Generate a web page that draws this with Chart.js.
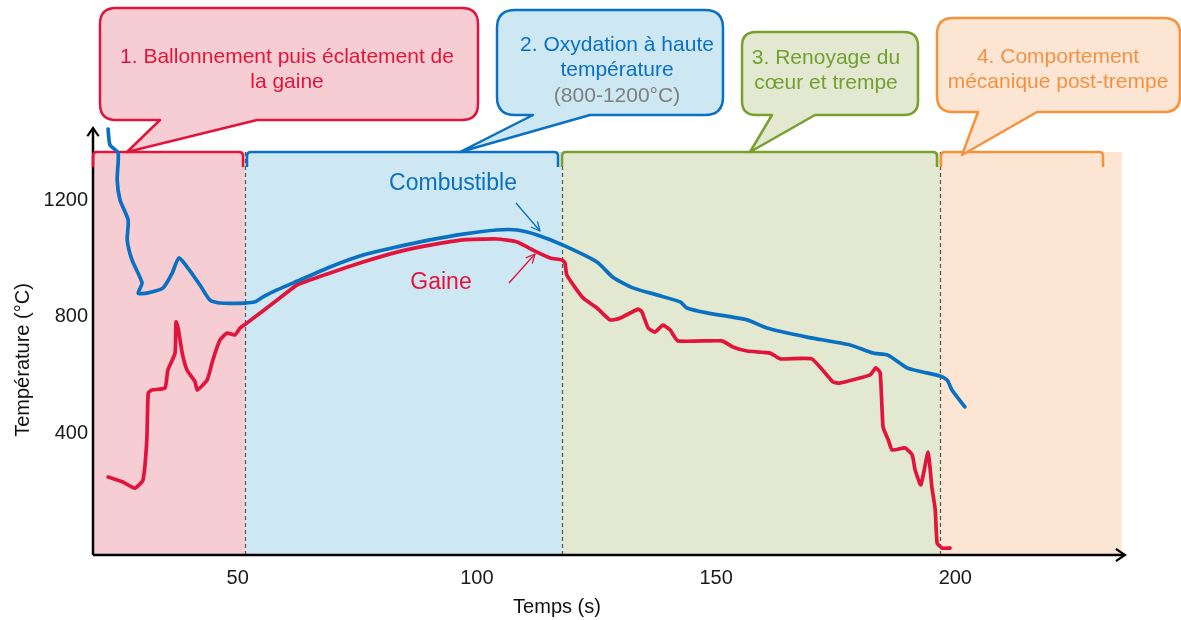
<!DOCTYPE html>
<html><head><meta charset="utf-8">
<script src="https://cdn.jsdelivr.net/npm/chart.js@4/dist/chart.umd.min.js"></script>
<style>html,body{margin:0;padding:0;background:#fff;}canvas{display:block}</style>
</head><body>
<canvas id="c" width="1181" height="620"></canvas>
<script>
// ---- data ----
const xTicks = [50, 100, 150, 200];
const yTicks = [400, 800, 1200];

const combustibleX = [22.9,23.3,25.0,24.8,25.4,27.1,26.9,27.9,30.0,29.2,31.0,34.4,36.3,37.7,39.6,42.1,44.2,46.3,51.5,53.6,55.3,58.2,63.0,69.3,76.2,83.3,90.2,97.1,104.2,108.4,112.6,118.0,125.1,128.4,132.6,137.6,142.5,143.9,148.1,156.5,160.6,169.0,178.0,182.8,185.9,189.9,193.2,196.8,198.3,199.3,202.0];
const combustibleY = [1445,1390,1363,1270,1201,1132,1064,995,916,881,881,899,950,1002,967,909,857,847,847,851,868,892,926,971,1012,1040,1064,1084,1098,1098,1081,1046,988,936,899,875,851,830,813,789,761,730,703,675,668,624,610,596,582,548,490];

const gaineX = [22.9,26.0,28.5,30.2,31.0,31.3,32.1,34.8,35.4,36.9,37.1,37.5,38.4,39.4,41.1,41.5,43.6,44.8,46.3,47.8,49.4,50.5,51.9,54.7,58.8,62.4,69.3,76.2,83.3,90.2,97.1,104.2,108.4,111.7,115.3,117.8,118.4,118.8,122.2,125.1,127.8,129.9,133.7,134.5,135.8,137.2,138.9,140.4,142.0,151.2,153.5,156.5,161.3,163.4,170.0,174.4,175.9,182.2,183.4,184.3,184.9,186.0,186.8,189.5,191.0,191.6,192.8,194.3,195.1,195.8,196.2,197.2,198.9];
const gaineY = [249,232,211,239,376,538,548,555,617,675,782,765,675,617,576,548,582,651,720,744,737,761,778,813,864,909,950,988,1022,1046,1064,1067,1057,1029,1002,995,985,943,864,830,789,795,826,816,761,747,771,754,717,717,696,682,675,655,655,576,572,600,624,607,421,376,342,349,325,273,222,335,215,136,22,5,5];

const phaseBounds = [19.75, 51.5, 117.8, 196.8, 234.8];
const phaseLabels = [
  ["1. Ballonnement puis éclatement de", "la gaine"],
  ["2. Oxydation à haute", "température", "(800-1200°C)"],
  ["3. Renoyage du", "cœur et trempe"],
  ["4. Comportement", "mécanique post-trempe"]
];
const seriesNames = ["Combustible", "Gaine"];
const xTitle = "Temps (s)";
const yTitle = "Température (°C)";

// ---- styles ----
const FONT = "'Liberation Sans', Arial, sans-serif";
const RED = '#e3143c', BLUE = '#0a70c2';
const phaseFill = ['#f7cdd4', '#cde7f3', '#e2e9d0', '#fde5d3'];
const phaseStroke = ['#e3143c', '#0a70c2', '#78a02f', '#f7923c'];
const phaseText = ['#e3143c', '#0a70c2', '#72a030', '#f39244'];
const phaseTopValue = 1366;
const callouts = [
  {x:100,y:8,w:378,h:112,r:16,tail:[160,257],tip:[127,152],cx:287,ys:[57,82]},
  {x:497,y:10,w:226,h:105,r:18,tail:[533,590],tip:[460,152],cx:617,ys:[45,70,96],colors:[null,null,'#7f7f7f']},
  {x:742,y:32,w:176,h:83,r:14,tail:[772,815],tip:[750,152],cx:826,ys:[58,83]},
  {x:937,y:18,w:243,h:94,r:16,tail:[978,1037],tip:[962,155],cx:1058,ys:[57,82]}
];
const bracketEnds = [[93,243],[247,558],[562,937],[941,1103]];

function pts(xs, ys){ return xs.map((x,i)=>({x:x, y:ys[i]})); }

function arrowHead(ctx, x1,y1,x2,y2,len,ang){
  const a=Math.atan2(y2-y1,x2-x1);
  ctx.beginPath();
  ctx.moveTo(x2-len*Math.cos(a-ang), y2-len*Math.sin(a-ang));
  ctx.lineTo(x2,y2);
  ctx.lineTo(x2-len*Math.cos(a+ang), y2-len*Math.sin(a+ang));
  ctx.stroke();
}

const decor = {
  id:'decor',
  beforeDatasetsDraw(chart){
    const ctx=chart.ctx, xs=chart.scales.x, ys=chart.scales.y;
    const top=ys.getPixelForValue(phaseTopValue), bottom=chart.chartArea.bottom;
    ctx.save();
    for(let i=0;i<4;i++){
      const a=xs.getPixelForValue(phaseBounds[i]), b=xs.getPixelForValue(phaseBounds[i+1]);
      ctx.fillStyle=phaseFill[i];
      ctx.fillRect(a, top, b-a, bottom-top);
    }
    ctx.strokeStyle='#555'; ctx.lineWidth=1.2; ctx.setLineDash([4,3]);
    for(let i=1;i<4;i++){
      const p=Math.round(xs.getPixelForValue(phaseBounds[i]))+0.5;
      ctx.beginPath(); ctx.moveTo(p, top); ctx.lineTo(p, bottom); ctx.stroke();
    }
    ctx.setLineDash([]);
    const L=chart.chartArea.left, R=chart.chartArea.right, T=chart.chartArea.top;
    ctx.strokeStyle='#000'; ctx.lineWidth=2.5; ctx.lineCap='butt';
    ctx.beginPath(); ctx.moveTo(L, bottom); ctx.lineTo(L, T+1); ctx.stroke();
    ctx.beginPath(); ctx.moveTo(L, bottom); ctx.lineTo(R-1, bottom); ctx.stroke();
    ctx.lineWidth=2.2;
    arrowHead(ctx, L, bottom, L, T, 10, 0.6);
    arrowHead(ctx, L, bottom, R, bottom, 11, 0.6);
    ctx.lineWidth=2.5;
    for(let i=0;i<4;i++){
      const [a,b]=bracketEnds[i];
      ctx.strokeStyle=phaseStroke[i];
      ctx.beginPath();
      ctx.moveTo(a, top+15); ctx.lineTo(a, top+4);
      ctx.quadraticCurveTo(a, top, a+4, top);
      ctx.lineTo(b-4, top);
      ctx.quadraticCurveTo(b, top, b, top+4);
      ctx.lineTo(b, top+15);
      ctx.stroke();
    }
    ctx.restore();
  },
  afterDatasetsDraw(chart){
    const ctx=chart.ctx;
    ctx.save();
    callouts.forEach((c,i)=>{
      const {x,y,w,h,r}=c, bt=y+h;
      ctx.beginPath();
      ctx.moveTo(x+r,y);
      ctx.lineTo(x+w-r,y); ctx.quadraticCurveTo(x+w,y,x+w,y+r);
      ctx.lineTo(x+w,bt-r); ctx.quadraticCurveTo(x+w,bt,x+w-r,bt);
      ctx.lineTo(c.tail[1],bt); ctx.lineTo(c.tip[0],c.tip[1]); ctx.lineTo(c.tail[0],bt);
      ctx.lineTo(x+r,bt); ctx.quadraticCurveTo(x,bt,x,bt-r);
      ctx.lineTo(x,y+r); ctx.quadraticCurveTo(x,y,x+r,y);
      ctx.closePath();
      ctx.fillStyle=phaseFill[i]; ctx.fill();
      ctx.strokeStyle=phaseStroke[i]; ctx.lineWidth=2.5; ctx.lineJoin='round'; ctx.stroke();
      ctx.font='21px '+FONT; ctx.textAlign='center'; ctx.textBaseline='middle';
      phaseLabels[i].forEach((t,k)=>{
        ctx.fillStyle=(c.colors&&c.colors[k])||phaseText[i];
        ctx.fillText(t, c.cx, c.ys[k]);
      });
    });
    ctx.font='23px '+FONT; ctx.textAlign='center'; ctx.textBaseline='middle';
    ctx.fillStyle=BLUE; ctx.fillText(seriesNames[0], 453, 184);
    ctx.fillStyle=RED; ctx.fillText(seriesNames[1], 441, 283);
    ctx.lineWidth=1.3;
    ctx.strokeStyle=BLUE;
    ctx.beginPath(); ctx.moveTo(516,203); ctx.lineTo(540,231); ctx.stroke();
    arrowHead(ctx,516,203,540,231,10,0.45);
    ctx.strokeStyle=RED;
    ctx.beginPath(); ctx.moveTo(509,283); ctx.lineTo(535,254); ctx.stroke();
    arrowHead(ctx,509,283,535,254,10,0.45);
    ctx.fillStyle='#111'; ctx.font='20px '+FONT;
    ctx.fillText(xTitle, 557, 607);
    ctx.translate(23, 360); ctx.rotate(-Math.PI/2);
    ctx.fillText(yTitle, 0, 0);
    ctx.restore();
  }
};

new Chart(document.getElementById('c'), {
  type:'line',
  data:{ datasets:[
    {label:seriesNames[0], data:pts(combustibleX, combustibleY), borderColor:BLUE, borderWidth:3.7, pointRadius:0, tension:0.2, fill:false, clip:false, borderJoinStyle:'round', borderCapStyle:'round'},
    {label:seriesNames[1], data:pts(gaineX, gaineY), borderColor:RED, borderWidth:3.7, pointRadius:0, tension:0.15, fill:false, clip:false, borderJoinStyle:'round', borderCapStyle:'round'}
  ]},
  options:{
    responsive:false, animation:false, devicePixelRatio:1,
    layout:{padding:{top:128,right:56,left:0,bottom:0}},
    plugins:{legend:{display:false}, tooltip:{enabled:false}},
    scales:{
      x:{type:'linear', min:19.75, max:235.47,
        grid:{display:false, drawTicks:false}, border:{display:false},
        afterBuildTicks:(s)=>{s.ticks=xTicks.map(v=>({value:v}));},
        afterFit:(s)=>{s.height=65;},
        ticks:{color:'#1a1a1a', font:{size:20, family:FONT}, padding:11, maxRotation:0, autoSkip:false, callback:(v)=>String(v)}},
      y:{type:'linear', min:-18.9, max:1448.5,
        grid:{display:false, drawTicks:false}, border:{display:false},
        afterBuildTicks:(s)=>{s.ticks=yTicks.map(v=>({value:v}));},
        afterFit:(s)=>{s.width=93;},
        ticks:{color:'#1a1a1a', font:{size:20, family:FONT}, padding:5, autoSkip:false, callback:(v)=>String(v)}}
    }
  },
  plugins:[decor]
});
</script>
</body></html>
